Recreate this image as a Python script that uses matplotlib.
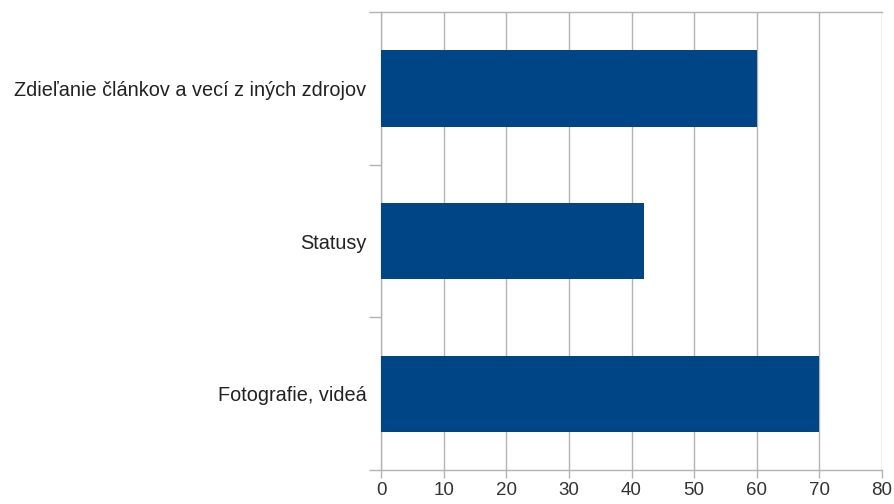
import matplotlib
matplotlib.use('Agg')
import matplotlib.pyplot as plt

plt.rcParams['font.family'] = ['Liberation Sans', 'DejaVu Sans']

categories = ['Fotografie, videá', 'Statusy', 'Zdieľanie článkov a vecí z iných zdrojov']
values = [70, 42, 60]
x_ticks = [0, 10, 20, 30, 40, 50, 60, 70, 80]

BAR_COLOR = '#004586'
GRID_COLOR = '#b3b3b3'

fig = plt.figure(figsize=(8.94, 5.04), dpi=100)
ax = fig.add_axes([0.4262, 0.0675, 0.9866 - 0.4262, 0.976 - 0.0675])

positions = list(range(len(categories)))
ax.barh(positions, values, height=0.5, color=BAR_COLOR, zorder=3)

ax.set_xlim(0, 80)
ax.set_ylim(-0.5, len(categories) - 0.5)
ax.set_xticks(x_ticks)
ax.set_xticklabels([str(t) for t in x_ticks], fontsize=13.5, color='#333333')
ax.xaxis.grid(True, color=GRID_COLOR, linewidth=1, zorder=0)

# category labels in the middle, ticks on the boundaries
ax.set_yticks(positions)
ax.set_yticklabels(categories, fontsize=14.3, color='#222222')
ax.tick_params(axis='y', which='major', length=0, pad=10.5)
ax.set_yticks([p - 0.5 for p in positions] + [len(categories) - 0.5], minor=True)
ax.tick_params(axis='y', which='minor', length=9, color=GRID_COLOR, width=1)
ax.tick_params(axis='x', length=6, color=GRID_COLOR, width=1, pad=3)

for side in ['left', 'bottom', 'top']:
    ax.spines[side].set_color(GRID_COLOR)
    ax.spines[side].set_linewidth(1)
ax.spines['right'].set_visible(False)

fig.savefig('out.png', dpi=100)
